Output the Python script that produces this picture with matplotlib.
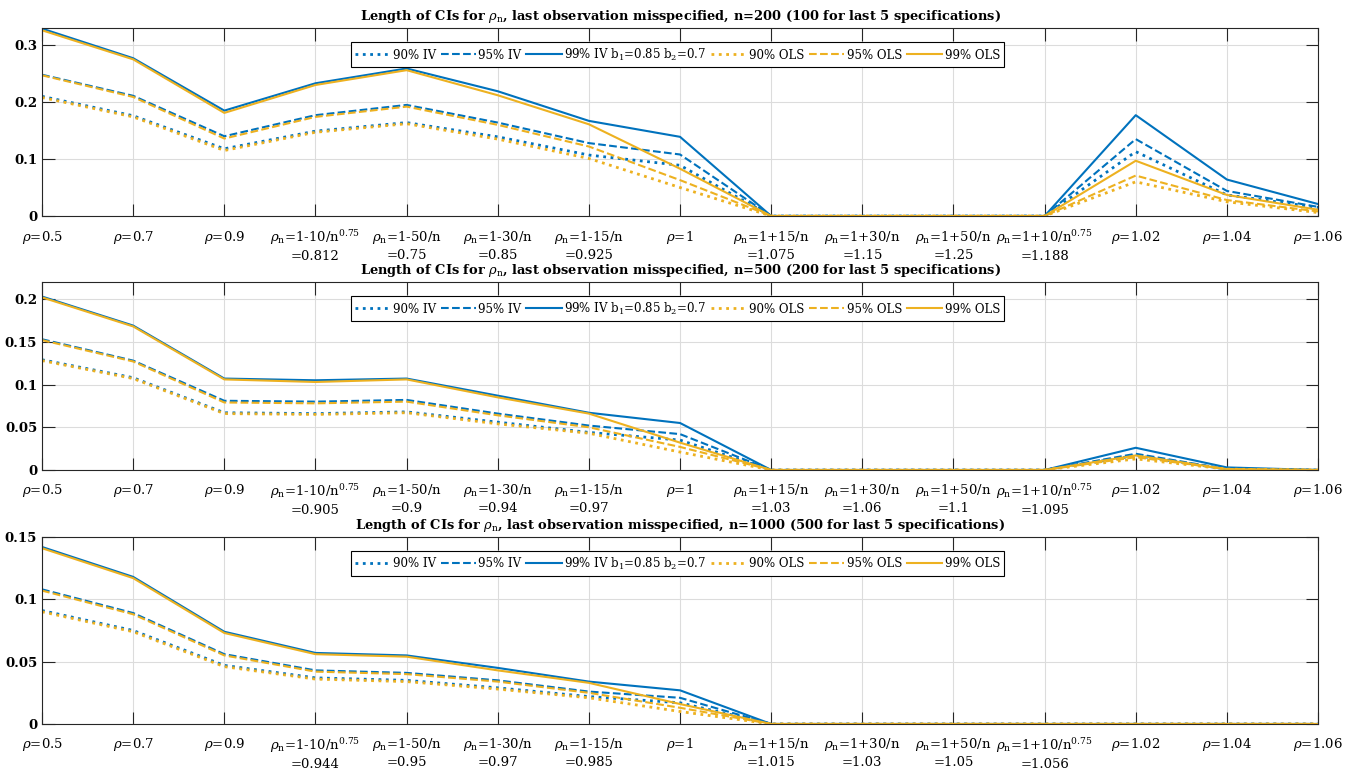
import numpy as np
import matplotlib
matplotlib.use("Agg")
import matplotlib.pyplot as plt

plt.rcParams['font.family'] = ['DejaVu Serif']
plt.rcParams['mathtext.fontset'] = 'dejavuserif'

# categories (x positions 1..15)
base_labels = [r'$\rho$=0.5', r'$\rho$=0.7', r'$\rho$=0.9']
tail_labels = [r'$\rho$=1.02', r'$\rho$=1.04', r'$\rho$=1.06']
mid_forms = [r'$\rho_{\rm n}$=1-10/n$^{0.75}$', r'$\rho_{\rm n}$=1-50/n', r'$\rho_{\rm n}$=1-30/n',
             r'$\rho_{\rm n}$=1-15/n']
up_forms = [r'$\rho_{\rm n}$=1+15/n', r'$\rho_{\rm n}$=1+30/n', r'$\rho_{\rm n}$=1+50/n',
            r'$\rho_{\rm n}$=1+10/n$^{0.75}$']

n_list = [200, 500, 1000]
n_small = [100, 200, 500]
low_vals = [['0.812', '0.75', '0.85', '0.925'],
            ['0.905', '0.9', '0.94', '0.97'],
            ['0.944', '0.95', '0.97', '0.985']]
high_vals = [['1.075', '1.15', '1.25', '1.188'],
             ['1.03', '1.06', '1.1', '1.095'],
             ['1.015', '1.03', '1.05', '1.056']]

# CI lengths, n=200
iv90_200 = [0.210, 0.176, 0.118, 0.149, 0.164, 0.139, 0.107, 0.089, 0, 0, 0, 0, 0.113, 0.037, 0.015]
iv95_200 = [0.248, 0.211, 0.140, 0.177, 0.195, 0.164, 0.128, 0.108, 0, 0, 0, 0, 0.135, 0.044, 0.016]
iv99_200 = [0.329, 0.277, 0.185, 0.233, 0.259, 0.219, 0.167, 0.139, 0, 0, 0, 0, 0.177, 0.064, 0.021]
ols90_200 = [0.208, 0.174, 0.115, 0.147, 0.162, 0.135, 0.101, 0.050, 0, 0, 0, 0, 0.060, 0.025, 0.006]
ols95_200 = [0.247, 0.209, 0.136, 0.174, 0.192, 0.160, 0.122, 0.063, 0, 0, 0, 0, 0.071, 0.028, 0.008]
ols99_200 = [0.326, 0.275, 0.181, 0.230, 0.256, 0.212, 0.161, 0.083, 0, 0, 0, 0, 0.097, 0.037, 0.011]

# n=500
iv90_500 = [0.129, 0.108, 0.067, 0.066, 0.068, 0.056, 0.044, 0.035, 0, 0, 0, 0, 0.017, 0.001, 0]
iv95_500 = [0.153, 0.128, 0.081, 0.080, 0.082, 0.066, 0.052, 0.042, 0, 0, 0, 0, 0.019, 0.001, 0]
iv99_500 = [0.203, 0.169, 0.107, 0.105, 0.107, 0.087, 0.067, 0.055, 0, 0, 0, 0, 0.026, 0.003, 0]
ols90_500 = [0.128, 0.107, 0.066, 0.065, 0.067, 0.054, 0.043, 0.021, 0, 0, 0, 0, 0.013, 0.001, 0]
ols95_500 = [0.152, 0.127, 0.079, 0.078, 0.080, 0.064, 0.050, 0.027, 0, 0, 0, 0, 0.015, 0.001, 0]
ols99_500 = [0.202, 0.168, 0.106, 0.103, 0.106, 0.085, 0.066, 0.032, 0, 0, 0, 0, 0.017, 0.001, 0]

# n=1000
iv90_1000 = [0.091, 0.075, 0.047, 0.037, 0.035, 0.029, 0.022, 0.017, 0, 0, 0, 0, 0, 0, 0]
iv95_1000 = [0.108, 0.089, 0.056, 0.043, 0.041, 0.035, 0.026, 0.021, 0, 0, 0, 0, 0, 0, 0]
iv99_1000 = [0.142, 0.118, 0.074, 0.057, 0.055, 0.045, 0.034, 0.027, 0, 0, 0, 0, 0, 0, 0]
ols90_1000 = [0.090, 0.074, 0.046, 0.036, 0.034, 0.028, 0.021, 0.010, 0, 0, 0, 0, 0, 0, 0]
ols95_1000 = [0.107, 0.088, 0.055, 0.042, 0.040, 0.034, 0.025, 0.013, 0, 0, 0, 0, 0, 0, 0]
ols99_1000 = [0.141, 0.117, 0.073, 0.056, 0.054, 0.043, 0.033, 0.016, 0, 0, 0, 0, 0, 0, 0]

panels = [
    (iv90_200, iv95_200, iv99_200, ols90_200, ols95_200, ols99_200),
    (iv90_500, iv95_500, iv99_500, ols90_500, ols95_500, ols99_500),
    (iv90_1000, iv95_1000, iv99_1000, ols90_1000, ols95_1000, ols99_1000),
]
ylims = [0.33, 0.22, 0.15]
yticks = [[0, 0.1, 0.2, 0.3], [0, 0.05, 0.1, 0.15, 0.2], [0, 0.05, 0.1, 0.15]]

series_names = ['90% IV', '95% IV', r'99% IV b$_1$=0.85 b$_2$=0.7', '90% OLS', '95% OLS', '99% OLS']
blue = '#0072BD'
yellow = '#EDB120'
styles = [(blue, ':'), (blue, '--'), (blue, '-'), (yellow, ':'), (yellow, '--'), (yellow, '-')]

fig = plt.figure(figsize=(13.56, 7.72), dpi=100)
boxes = [(0.031, 0.7202, 0.941, 0.2435), (0.031, 0.3912, 0.941, 0.2435), (0.031, 0.0622, 0.941, 0.2422)]
x = np.arange(1, 16)

for k in range(3):
    ax = fig.add_axes(boxes[k])
    for vals, name, (c, ls) in zip(panels[k], series_names, styles):
        lw = 2.0 if ls == ':' else 1.5
        ax.plot(x, vals, color=c, linestyle=ls, linewidth=lw, label=name)
    labels = list(base_labels)
    labels += [f + '\n=' + v for f, v in zip(mid_forms, low_vals[k])]
    labels += [r'$\rho$=1']
    labels += [f + '\n=' + v for f, v in zip(up_forms, high_vals[k])]
    labels += tail_labels
    ax.set_xticks(x)
    ax.set_xticklabels(labels, fontsize=9.5, linespacing=1.3)
    ax.set_xlim(1, 15)
    ax.set_ylim(0, ylims[k])
    ax.set_yticks(yticks[k])
    ax.set_yticklabels([f'{t:g}' for t in yticks[k]], fontsize=9.5, fontweight='bold')
    ax.grid(True, color='#dcdcdc', linewidth=0.8)
    ax.tick_params(direction='in', length=9, width=0.8, top=True, right=True, color='#262626')
    ax.tick_params(axis='x', pad=9)
    for s in ax.spines.values():
        s.set_color('#262626')
        s.set_linewidth(0.8)
    ax.set_title(r'Length of CIs for $\rho_{\rm n}$, last observation misspecified, n=%d (%d for last 5 specifications)'
                 % (n_list[k], n_small[k]), fontsize=9.4, fontweight='bold', pad=6)
    leg = ax.legend(loc='upper center', bbox_to_anchor=(0.498, 0.955), ncol=6, fontsize=8.5,
                    handlelength=3.0, handletextpad=0.2, columnspacing=0.4, borderpad=0.35,
                    fancybox=False, framealpha=1, edgecolor='black')
    leg.get_frame().set_linewidth(0.8)

fig.savefig('out.png', dpi=100)
